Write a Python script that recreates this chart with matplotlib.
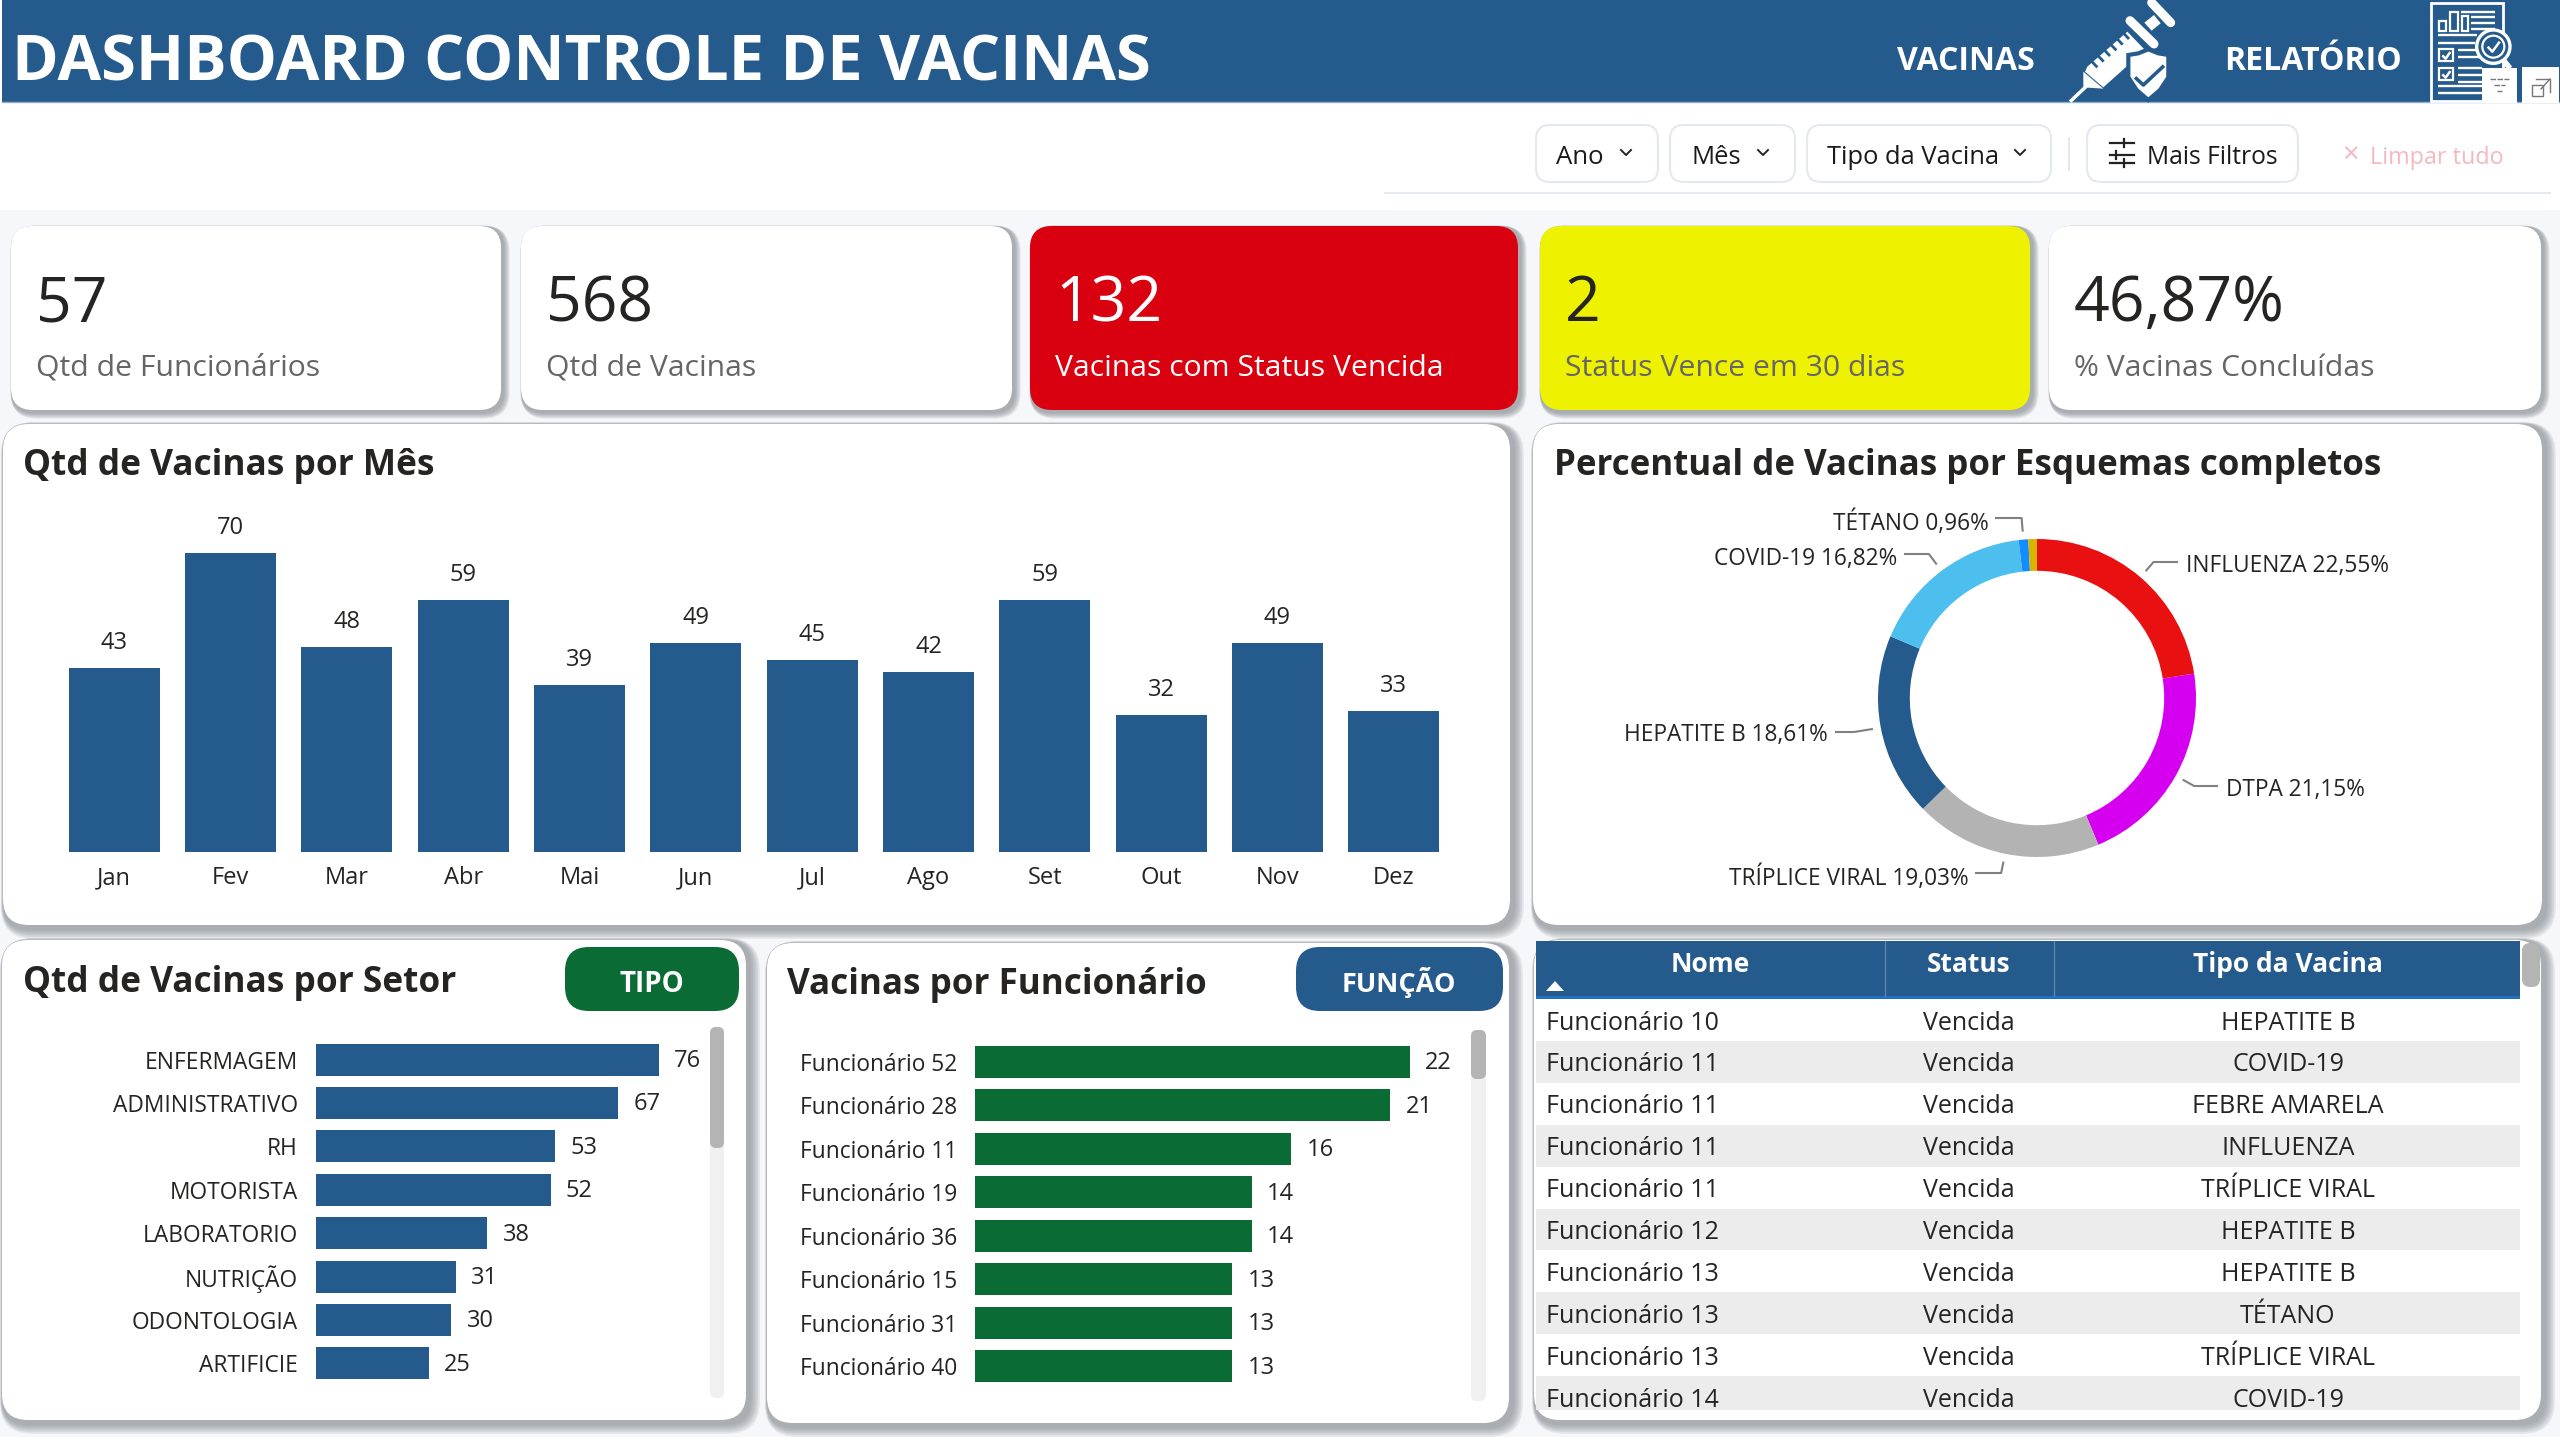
import numpy as np
import matplotlib
matplotlib.use('Agg')
import matplotlib.pyplot as plt
from matplotlib.patches import FancyBboxPatch, Rectangle, Polygon, Circle

plt.rcParams['font.family'] = ['Open Sans', 'DejaVu Sans']

W, H = 2560, 1441
BLUE = '#255A8C'
GREEN = '#0B6B35'
INK = '#252423'

#kpi cards
kpi_values = ['57', '568', '132', '2', '46,87%']
kpi_labels = ['Qtd de Funcionários', 'Qtd de Vacinas', 'Vacinas com Status Vencida',
              'Status Vence em 30 dias', '% Vacinas Concluídas']

#vacinas por mes
meses = ['Jan', 'Fev', 'Mar', 'Abr', 'Mai', 'Jun', 'Jul', 'Ago', 'Set', 'Out', 'Nov', 'Dez']
qtd_mes = [43, 70, 48, 59, 39, 49, 45, 42, 59, 32, 49, 33]

#esquemas completos, clockwise from the top
vacinas = ['INFLUENZA', 'DTPA', 'TRÍPLICE VIRAL', 'HEPATITE B', 'COVID-19', 'TÉTANO', 'FEBRE AMARELA']
percentual = [22.55, 21.15, 19.03, 18.61, 16.82, 0.96, 0.88]
cores_vacina = ['#E81010', '#D500F0', '#B3B3B3', BLUE, '#4CBFEF', '#118DFF', '#D9B300']

#setor
setores = ['ENFERMAGEM', 'ADMINISTRATIVO', 'RH', 'MOTORISTA', 'LABORATORIO', 'NUTRIÇÃO', 'ODONTOLOGIA', 'ARTIFICIE']
qtd_setor = [76, 67, 53, 52, 38, 31, 30, 25]

#funcionarios
funcionarios = ['Funcionário 52', 'Funcionário 28', 'Funcionário 11', 'Funcionário 19',
                'Funcionário 36', 'Funcionário 15', 'Funcionário 31', 'Funcionário 40']
qtd_func = [22, 21, 16, 14, 14, 13, 13, 13]

#tabela
tab_nome = ['Funcionário 10', 'Funcionário 11', 'Funcionário 11', 'Funcionário 11', 'Funcionário 11',
            'Funcionário 12', 'Funcionário 13', 'Funcionário 13', 'Funcionário 13', 'Funcionário 14']
tab_status = ['Vencida'] * 10
tab_tipo = ['HEPATITE B', 'COVID-19', 'FEBRE AMARELA', 'INFLUENZA', 'TRÍPLICE VIRAL',
            'HEPATITE B', 'HEPATITE B', 'TÉTANO', 'TRÍPLICE VIRAL', 'COVID-19']

fig = plt.figure(figsize=(W / 100, H / 100), dpi=100, facecolor='white')
bg = fig.add_axes([0, 0, 1, 1])
bg.set_xlim(0, W)
bg.set_ylim(H, 0)
bg.axis('off')


def px_axes(x0, y0, x1, y1):
    ax = fig.add_axes([x0 / W, 1 - y1 / H, (x1 - x0) / W, (y1 - y0) / H])
    ax.patch.set_alpha(0)
    return ax


def box(x0, y0, x1, y1, r, fc, ec='none', lw=0, z=2, alpha=None):
    p = FancyBboxPatch((x0, y0), x1 - x0, y1 - y0, boxstyle='round,pad=0,rounding_size=%d' % r,
                       fc=fc, ec=ec, lw=lw, zorder=z, alpha=alpha)
    bg.add_patch(p)
    return p


def card(x0, y0, x1, y1, r=26, off=8, fc='white', top=0.15):
    # soft drop shadow from stacked translucent boxes
    for g in [1.6, 1.3, 1.0, 0.7, 0.4, 0.1]:
        d = g * off
        box(x0 - d * top, y0 - d * top, x1 + off * 0.6 + d * 0.7, y1 + off * 0.6 + d * 0.7, r + d * 0.5,
            '#85888D', z=1, alpha=0.16)
    box(x0, y0, x1, y1, r, fc)


def txt(x, y, s, size, color=INK, ha='left', weight='normal', z=5):
    return bg.text(x, y + 3, s, fontsize=size, color=color, ha=ha, va='center', fontweight=weight, zorder=z)


def px_x(base, scale, *pts):
    # icon outlines sketched on a 3x grid anchored at the icon corner
    return [(base + x / scale, y / scale) for x, y in pts]


def line(pts, lw, color='white', z=4, cap='butt'):
    xs, ys = zip(*pts)
    bg.plot(xs, ys, color=color, lw=lw, zorder=z, solid_capstyle=cap)


#page background and header
bg.add_patch(Rectangle((0, 210), W, 1227, fc='#F5F7FB', ec='none', zorder=0))
bg.add_patch(Rectangle((2, 0), W, 102, fc=BLUE, ec='none', zorder=1))
bg.plot([2, W], [102, 102], color='#8FB0CC', lw=1, zorder=1)
txt(12, 61, 'DASHBOARD CONTROLE DE VACINAS', 45.5, 'white', weight='bold')
txt(1966, 58, 'VACINAS', 23, 'white', ha='center', weight='bold')
txt(2313, 58, 'RELATÓRIO', 23, 'white', ha='center', weight='bold')

#syringe
sy = lambda *pts: px_x(2050, 3, *pts)
line(sy((60, 305), (110, 258)), 2.5, z=3)
bg.add_patch(Polygon(sy((100, 215), (160, 266), (100, 262)), fc='white', ec='none', zorder=3))
bg.add_patch(Polygon(sy((112, 200), (232, 95), (285, 150), (160, 262), (105, 215)), fc='white', ec='none', zorder=3))
line(sy((240, 62), (312, 132)), 6.5, z=3, cap='round')
bg.add_patch(Polygon(sy((283, 68), (312, 45), (332, 70), (305, 92)), fc='white', ec='none', zorder=3))
line(sy((305, 8), (362, 68)), 6.5, z=3, cap='round')
for k in range(6):
    tx, ty = 128 + 19 * k, 187 - 17 * k
    line(sy((tx - 4, ty - 4), (tx + 14, ty + 15)), 2, color=BLUE, z=3)
bg.add_patch(Polygon(sy((235, 165), (265, 160), (295, 148), (325, 160), (355, 165), (355, 232), (330, 270),
                        (295, 300), (260, 270), (235, 232)),
                     fc='white', ec=BLUE, lw=3, zorder=4))
line(sy((255, 232), (280, 255), (342, 197)), 2.6, color=BLUE, z=5)

#report icon
dc = lambda *pts: px_x(2425, 3, *pts)
bg.add_patch(Polygon(dc((18, 8), (235, 8), (235, 304), (18, 304)), fc=BLUE, ec='white', lw=2, zorder=3))
for bx0, by0, bx1 in [(42, 62, 62), (76, 35, 98), (110, 48, 130)]:
    bg.add_patch(Polygon(dc((bx0, by0), (bx1, by0), (bx1, 92), (bx0, 92)), fc=BLUE, ec='white', lw=1.6, zorder=4))
for ly, lx0, lx1 in [(35, 108, 210), (50, 138, 210), (68, 138, 210), (88, 138, 210),
                     (106, 40, 155), (128, 40, 150), (150, 100, 160), (170, 100, 165),
                     (205, 100, 170), (225, 100, 170), (245, 100, 170), (258, 40, 170), (278, 40, 170)]:
    line(dc((lx0, ly), (lx1, ly)), 1.7)
for cy in [148, 205]:
    bg.add_patch(Polygon(dc((42, cy), (85, cy), (85, cy + 36), (42, cy + 36)), fc=BLUE, ec='white', lw=1.6, zorder=4))
    line(dc((52, cy + 18), (62, cy + 28), (76, cy + 8)), 1.8, z=5)
bg.add_patch(Circle((2425 + 205 / 3, 140 / 3), 50 / 3, fc=BLUE, ec='white', lw=2.4, zorder=5))
bg.add_patch(Circle((2425 + 205 / 3, 140 / 3), 33 / 3, fc=BLUE, ec='white', lw=1.6, zorder=5))
line(dc((188, 140), (202, 155), (224, 125)), 1.8, z=6)
line(dc((235, 180), (255, 205)), 4, z=5)

#visual header buttons
bg.add_patch(Rectangle((2482, 68), 35, 35, fc='white', ec='none', zorder=7))
bg.add_patch(Rectangle((2522, 67), 37, 36, fc='white', ec='none', zorder=7))
for ly, a, b in [(79, 2490, 2509), (85, 2494, 2505), (91, 2497, 2502)]:
    bg.plot([a, b], [ly, ly], color='#777777', lw=1, ls=(0, (4, 1)), zorder=8)
bg.add_patch(Rectangle((2532, 85), 11, 11, fc='none', ec='#777777', lw=1, zorder=8))
bg.plot([2536, 2550, 2550], [79, 79, 92], color='#777777', lw=1, zorder=8)
bg.plot([2541, 2550], [89, 79], color='#777777', lw=1, zorder=8)

#filter bar
for x0, x1 in [(1536, 1658), (1670, 1795), (1807, 2051), (2087, 2298)]:
    box(x0, 125, x1, 182, 14, 'white', ec='#E6E8F0', lw=1.5)
txt(1556, 155, 'Ano', 18.5, '#1A1A1A')
txt(1691, 155, 'Mês', 18.5, '#1A1A1A')
txt(1827, 155, 'Tipo da Vacina', 18.4, '#1A1A1A')
txt(2147, 155, 'Mais Filtros', 17.7, '#1A1A1A')
for cx in [1626, 1763, 2020]:
    bg.plot([cx - 5, cx, cx + 5], [150, 155, 150], color='#222222', lw=1.4, zorder=5)
bg.plot([2069, 2069], [138, 170], color='#E6E8F0', lw=1.5, zorder=3)
for ly, tx in [(143, 2124), (155, 2116), (163, 2124)]:
    bg.plot([2110, 2134], [ly, ly], color='#222222', lw=1.6, zorder=5)
    bg.plot([tx, tx], [ly - 4, ly + 4], color='#222222', lw=1.6, zorder=5)
txt(2350, 152, '×', 21, '#F4B8BE', ha='center')
txt(2370, 155, 'Limpar tudo', 16.8, '#F4B8BE')
bg.plot([1385, 2550], [193, 193], color='#E6E8F0', lw=1.5, zorder=3)

#kpi row
kpi_x = [(11, 501), (521, 1012), (1030, 1518), (1540, 2030), (2049, 2541)]
kpi_bg = ['white', 'white', '#D9000F', '#EEF200', 'white']
kpi_fg = [INK, INK, 'white', INK, INK]
kpi_sub = ['#666666', '#666666', 'white', '#666666', '#666666']
for (x0, x1), val, lab, c, f, s in zip(kpi_x, kpi_values, kpi_labels, kpi_bg, kpi_fg, kpi_sub):
    card(x0, 226, x1, 410, r=22, off=5, fc=c, top=0.05)
    txt(x0 + 25, 302, val, 45, f, weight='medium')
    txt(x0 + 25, 365, lab, 21.7, s)

#panels
card(3, 424, 1510, 925)
card(1533, 424, 2542, 925)
card(2, 940, 746, 1420)
card(767, 943, 1509, 1423)
card(1534, 940, 2541, 1420)

txt(23, 463, 'Qtd de Vacinas por Mês', 25.4, weight='bold')
txt(1554, 463, 'Percentual de Vacinas por Esquemas completos', 25.1, weight='bold')
txt(23, 980, 'Qtd de Vacinas por Setor', 25.4, weight='bold')
txt(787, 982, 'Vacinas por Funcionário', 25.2, weight='bold')

box(565, 947, 739, 1011, 24, GREEN)
txt(652, 981, 'TIPO', 20, 'white', ha='center', weight='bold')
box(1296, 947, 1503, 1011, 24, BLUE)
txt(1399, 980, 'FUNÇÃO', 19.5, 'white', ha='center', weight='bold')

#monthly bars
ax = px_axes(56, 510, 1452, 852)
ax.bar(range(12), qtd_mes, width=0.785, color=BLUE)
ax.set_xlim(-0.5, 11.5)
ax.set_ylim(0, 80)
ax.set_xticks(range(12), meses, fontsize=17, color=INK)
ax.tick_params(axis='x', length=0, pad=10)
ax.set_yticks([])
for s in ax.spines.values():
    s.set_visible(False)
for i, v in enumerate(qtd_mes):
    ax.annotate(str(v), (i, v), xytext=(0, 18), textcoords='offset points', ha='center', va='center',
                fontsize=17, color=INK)

#donut
R = 159
ax = px_axes(2037 - R, 698 - R, 2037 + R, 698 + R)
ax.pie(percentual, colors=cores_vacina, startangle=90, counterclock=False, radius=1,
       wedgeprops={'width': 0.2, 'linewidth': 0})
ax.set_xlim(-1, 1)
ax.set_ylim(-1, 1)

# label anchor, elbow y and horizontal end of each leader line
donut_labels = {0: (2186, 563, 'left', 562, 2177), 1: (2226, 787, 'left', 786, 2217),
                2: (1969, 875, 'right', 873, 1976), 3: (1828, 732, 'right', 732, 1836),
                4: (1897, 556, 'right', 554, 1905), 5: (1989, 520, 'right', 518, 1996)}
mids = (np.cumsum(percentual) - np.array(percentual) / 2) / 100 * 2 * np.pi
for i, (tx, ty, ha, ey, ex) in donut_labels.items():
    sx = 2037 + (R + 9) * np.sin(mids[i])
    sy0 = 698 - (R + 9) * np.cos(mids[i])
    elbow = sx - (ey - sy0) * np.tan(mids[i])
    if abs(np.cos(mids[i])) <= 0.3:
        elbow = sx + (12 if np.sin(mids[i]) > 0 else -18)
    bg.plot([sx, elbow, ex], [sy0, ey, ey], color='#808080', lw=1.5, zorder=5)
    txt(tx, ty, '%s %s%%' % (vacinas[i], ('%.2f' % percentual[i]).replace('.', ',')), 16.3, ha=ha)


def hbars(box_px, labels, values, color, xmax):
    ax = px_axes(*box_px)
    ax.barh(range(len(values)), values, height=0.735, color=color)
    ax.set_ylim(len(values) - 0.5, -0.5)
    ax.set_xlim(0, xmax)
    ax.set_yticks(range(len(values)), labels, fontsize=16.4, color=INK)
    ax.tick_params(axis='y', length=0, pad=13)
    ax.set_xticks([])
    for s in ax.spines.values():
        s.set_visible(False)
    for i, v in enumerate(values):
        ax.annotate(str(v), (v, i), xytext=(11, -1), textcoords='offset points', va='center',
                    fontsize=17, color=INK)


hbars((316, 1038, 677, 1385), setores, qtd_setor, BLUE, 80)
hbars((975, 1040, 1410, 1388), funcionarios, qtd_func, GREEN, 22)

#scrollbars
box(710, 1027, 724, 1398, 6, '#F0F0F0', z=3)
box(710, 1027, 724, 1148, 6, '#B4B4B4', z=3)
box(1471, 1030, 1486, 1401, 6, '#F0F0F0', z=3)
box(1471, 1030, 1486, 1079, 6, '#B4B4B4', z=3)

#table
bg.add_patch(Rectangle((1536, 941), 984, 57, fc=BLUE, ec='none', zorder=3))
bg.add_patch(Rectangle((1536, 996), 984, 3, fc='#1F6FC4', ec='none', zorder=3))
for sx in [1885, 2054]:
    bg.plot([sx, sx], [941, 996], color='#5D86AE', lw=1, zorder=4)
txt(1710, 961, 'Nome', 19, 'white', ha='center', weight='bold')
txt(1969, 961, 'Status', 19, 'white', ha='center', weight='bold')
txt(2288, 961, 'Tipo da Vacina', 19, 'white', ha='center', weight='bold')
bg.add_patch(Polygon([(1546, 991), (1564, 991), (1555, 981)], fc='white', ec='none', zorder=5))

row_h = 41.9
clip = Rectangle((1536, 998), 984, 412, transform=bg.transData)
for i, (nome, status, tipo) in enumerate(zip(tab_nome, tab_status, tab_tipo)):
    top = 999 + i * row_h
    if i % 2 == 1:
        r = Rectangle((1536, top), 984, row_h, fc='#ECECEC', ec='none', zorder=3)
        bg.add_patch(r)
        r.set_clip_path(clip)
    for x, s, ha in [(1546, nome, 'left'), (1969, status, 'center'), (2288, tipo, 'center')]:
        t = txt(x, top + 21, s, 18, ha=ha)
        t.set_clip_path(clip)
box(2522, 943, 2540, 987, 8, '#B4B4B4', z=4)

fig.savefig('out.png', dpi=100)
